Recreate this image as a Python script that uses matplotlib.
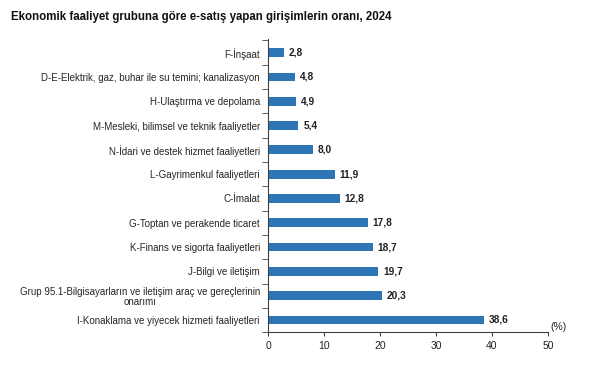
import matplotlib.pyplot as plt
import numpy as np

plt.rcParams['font.family'] = ['Liberation Sans', 'DejaVu Sans']

categories = [
    "F-İnşaat",
    "D-E-Elektrik, gaz, buhar ile su temini; kanalizasyon",
    "H-Ulaştırma ve depolama",
    "M-Mesleki, bilimsel ve teknik faaliyetler",
    "N-İdari ve destek hizmet faaliyetleri",
    "L-Gayrimenkul faaliyetleri",
    "C-İmalat",
    "G-Toptan ve perakende ticaret",
    "K-Finans ve sigorta faaliyetleri",
    "J-Bilgi ve iletişim",
    "Grup 95.1-Bilgisayarların ve iletişim araç ve gereçlerinin\nonarımı",
    "I-Konaklama ve yiyecek hizmeti faaliyetleri",
]
values = [2.8, 4.8, 4.9, 5.4, 8.0, 11.9, 12.8, 17.8, 18.7, 19.7, 20.3, 38.6]
value_labels = ["2,8", "4,8", "4,9", "5,4", "8,0", "11,9", "12,8", "17,8", "18,7", "19,7", "20,3", "38,6"]

fig = plt.figure(figsize=(6.15, 3.67), dpi=100)
ax = fig.add_axes([0.436, 0.095, 0.455, 0.80])

y = np.arange(len(categories))
ax.barh(y, values, height=0.36, color="#2E75B6")
for yi, v, lab in zip(y, values, value_labels):
    ax.text(v + 0.9, yi, lab, va="center", ha="left", fontsize=7.3, fontweight="bold", color="#222222")

ax.set_yticks(y)
ax.set_yticklabels(categories, fontsize=7, color="#262626", multialignment="center", linespacing=1.0)
ax.set_yticks(np.arange(-0.5, len(categories), 1.0), minor=True)
ax.tick_params(axis="y", which="major", length=0, pad=6)
ax.tick_params(axis="y", which="minor", length=4, color="#404040", direction="out")
ax.set_ylim(len(categories) - 0.5, -0.58)

ax.set_xlim(0, 50)
ax.set_xticks([0, 10, 20, 30, 40, 50])
ax.tick_params(axis="x", length=3, color="#404040", labelsize=7.5, labelcolor="#222222")

for s in ["top", "right"]:
    ax.spines[s].set_visible(False)
for s in ["left", "bottom"]:
    ax.spines[s].set_color("#404040")
    ax.spines[s].set_linewidth(0.8)

ax.text(50.5, len(categories) - 0.5, "(%)", fontsize=7.5, ha="left", va="bottom", color="#222222")

fig.text(0.018, 0.955, "Ekonomik faaliyet grubuna göre e-satış yapan girişimlerin oranı, 2024",
         fontsize=8.3, fontweight="bold", ha="left", va="center", color="#111111")

fig.savefig("out.png", dpi=100)
